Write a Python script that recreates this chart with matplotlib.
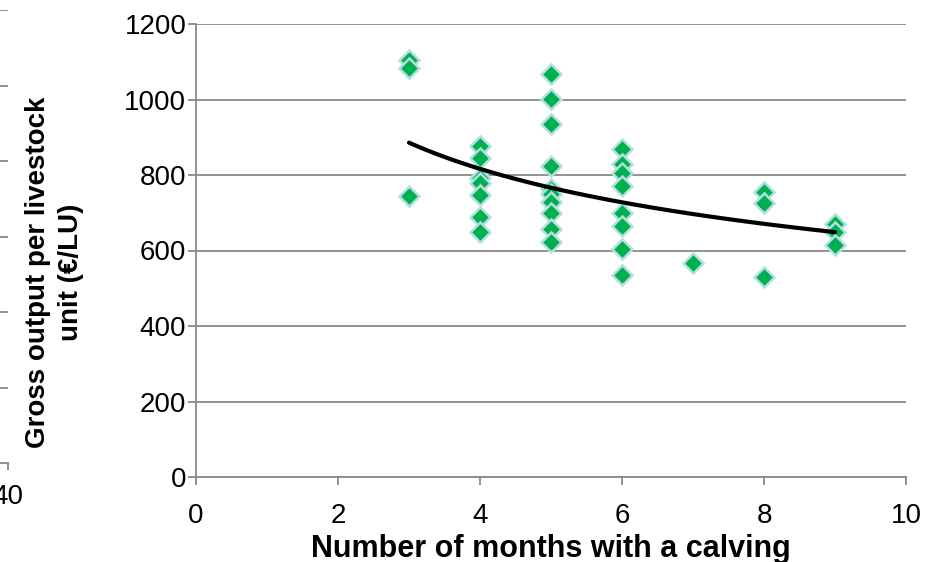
import numpy as np
import matplotlib
matplotlib.use("Agg")
import matplotlib.pyplot as plt

plt.rcParams['font.family'] = ['Liberation Sans', 'DejaVu Sans']

# months with a calving vs gross output per LU
months = [3, 3, 3,
          4, 4, 4, 4, 4, 4, 4,
          5, 5, 5, 5, 5, 5, 5, 5, 5, 5,
          6, 6, 6, 6, 6, 6, 6, 6,
          7,
          8, 8, 8,
          9, 9, 9]
output = [1105, 1083, 744,
          877, 845, 792, 779, 747, 689, 649,
          1067, 1001, 936, 824, 762, 750, 728, 699, 657, 623,
          869, 829, 805, 771, 700, 665, 604, 535,
          567,
          755, 726, 530,
          670, 648, 615]

# power trend line as shown on the chart
trend_x = [3, 4, 5, 6, 7, 8, 9]
trend_y = [884, 822, 765, 725, 694, 670, 652]

x_ticks = [0, 2, 4, 6, 8, 10]
y_ticks = [0, 200, 400, 600, 800, 1000, 1200]

W, H = 931, 562
fig = plt.figure(figsize=(W / 100, H / 100), dpi=100)
ax = fig.add_axes([196 / W, (H - 477) / H, (906 - 196) / W, (477 - 24) / H])

grey = '#898989'
ax.set_xlim(0, 10)
ax.set_ylim(0, 1200)
ax.set_xticks(x_ticks)
ax.set_yticks(y_ticks)
ax.yaxis.grid(True, color=grey, lw=1.3)
ax.set_axisbelow(True)
for s in ['top', 'right']:
    ax.spines[s].set_visible(False)
for s in ['left', 'bottom']:
    ax.spines[s].set_color(grey)
    ax.spines[s].set_linewidth(1.3)
ax.tick_params(axis='both', colors=grey, width=1.3, labelsize=20,
               labelcolor='black')
ax.tick_params(axis='x', length=6, pad=13)
ax.tick_params(axis='y', length=6, pad=1)

ax.plot(months, output, linestyle='none', marker='D', markersize=10.5,
        markerfacecolor='#00B050', markeredgecolor='#b4e0de', markeredgewidth=1.8,
        zorder=3)

# y = a * x^b fitted to the trend readings
b, ln_a = np.polyfit(np.log(trend_x), np.log(trend_y), 1)
xs = np.linspace(min(trend_x), max(trend_x), 100)
ax.plot(xs, np.exp(ln_a) * xs ** b, color='black', lw=3.0, zorder=4,
        solid_capstyle='round')

ax.set_xlabel('Number of months with a calving', fontsize=22, fontweight='bold')
ax.xaxis.set_label_coords(0.5, -0.158)
ax.xaxis.label.set_verticalalignment('center')
ax.set_ylabel('Gross output per livestock\nunit (€/LU)', fontsize=20,
              fontweight='bold', linespacing=1.35)
ax.yaxis.set_label_coords((55 - 196) / 710, (477 - 272) / 453)
ax.yaxis.label.set_verticalalignment('center')

# edge of the neighbouring chart, cut off at the left
ax2 = fig.add_axes([-0.05, (H - 463) / H, 0.05 + 8 / W, (463 - 10) / H])
ax2.set_xlim(0, 40)
ax2.set_ylim(0, 6)
ax2.set_yticks([1, 2, 3, 4, 5, 6])
ax2.set_xticks([40])
ax2.set_xticklabels(['40'])
ax2.yaxis.grid(True, color=grey, lw=1.3)
for s in ['top', 'right', 'left']:
    ax2.spines[s].set_visible(False)
ax2.spines['bottom'].set_color(grey)
ax2.spines['bottom'].set_linewidth(1.3)
ax2.tick_params(axis='y', left=False, labelleft=False)
ax2.tick_params(axis='x', colors=grey, length=5, width=1.3, labelsize=20,
                labelcolor='black', pad=10)

fig.savefig('out.png', dpi=100)
